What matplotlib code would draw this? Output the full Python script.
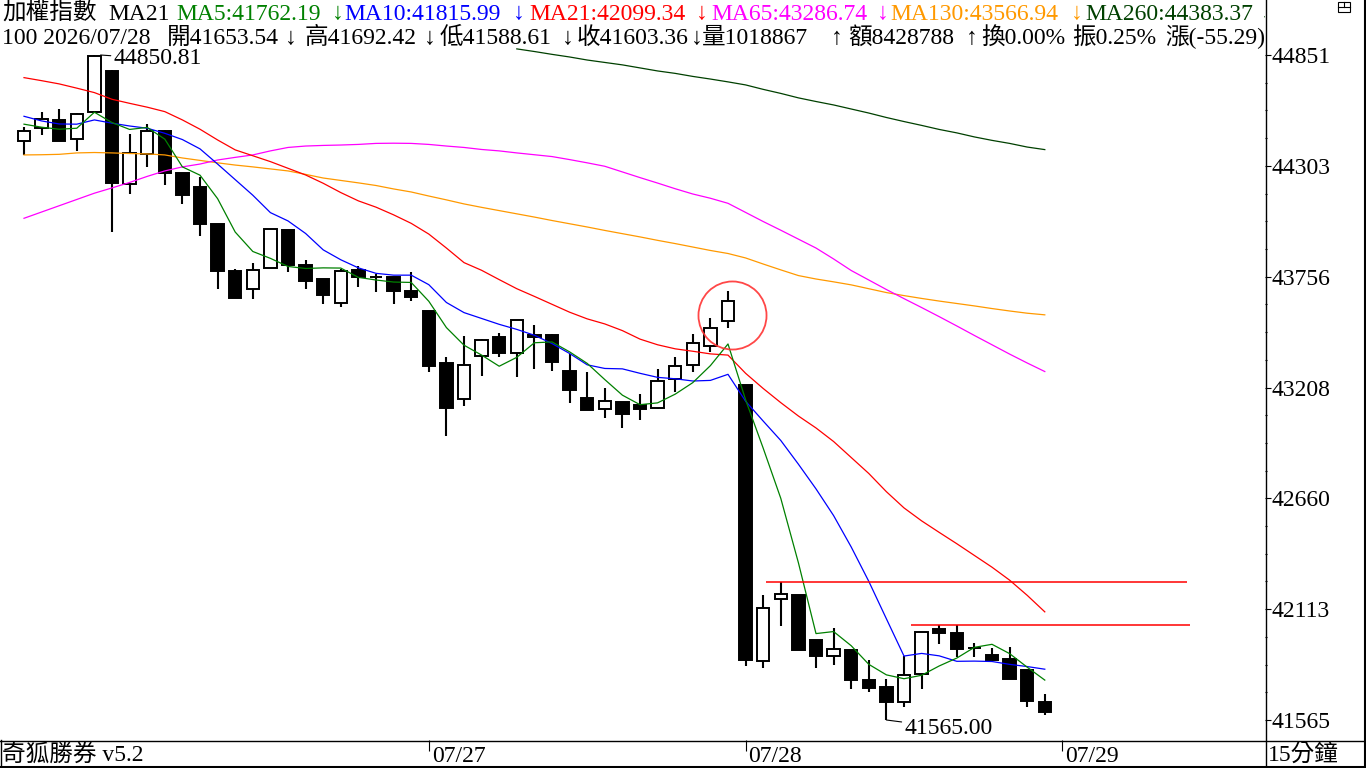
import numpy as np
import matplotlib
matplotlib.use('Agg')
import matplotlib.pyplot as plt
from matplotlib.lines import Line2D
from matplotlib.patches import Rectangle

# 15-min bars, 07/23 afternoon .. 07/28
open_ = [44425, 44489, 44530, 44434, 44569, 44772, 44212, 44360, 44477, 44266,
         44199, 44016, 43784, 43693, 43797, 43986, 43813, 43744, 43624, 43789,
         43752.5, 43754, 43685, 43586, 43329, 43150, 43362, 43458, 43377, 43456,
         43467, 43290, 43156, 43100, 43136, 43122, 43105, 43250, 43318, 43415,
         43538, 43220, 41855, 42164, 42183, 41960, 41883, 41911, 41763, 41728,
         41655, 41791, 42015, 41993, 41922, 41886, 41865, 41812, 41653.54]
high = [44494, 44571, 44584, 44564, 44850.81, 44775, 44461, 44510, 44480, 44267,
        44250, 44017, 43792, 43825, 43991, 43987, 43838, 43745, 43792, 43808,
        43769, 43755, 43779, 43587, 43359, 43463, 43448, 43479, 43541, 43517,
        43472, 43372, 43285, 43206, 43137, 43176, 43299, 43359, 43472, 43551,
        43685, 43221, 42181, 42245, 42184, 41961, 42021, 41912, 41862, 41768,
        41883, 42001, 42035, 42034, 41944, 41919, 41924, 41813, 41692.42]
low = [44357, 44456, 44426, 44378, 44567, 43978, 44164, 44299, 44209, 44113,
       43958, 43693, 43650, 43644, 43796, 43780, 43693, 43619, 43607, 43706,
       43681, 43622, 43637, 43286, 42970, 43118, 43266, 43359, 43261, 43301,
       43291, 43133, 43097, 43059, 43009, 43047, 43104, 43186, 43285, 43383,
       43504, 41833, 41820, 42030, 41911, 41823, 41838, 41718, 41702, 41565,
       41628, 41717, 41942, 41878, 41878, 41862, 41768, 41628, 41588.61]
close = [44474, 44533, 44428, 44558, 44846, 44220, 44365, 44476, 44266, 44161,
         44017, 43785, 43652, 43787, 43990, 43815, 43736, 43667, 43784, 43756,
         43752.5, 43686, 43657, 43316, 43108, 43318, 43441, 43380, 43540, 43466,
         43336, 43197, 43098, 43140, 43079, 43103, 43239, 43313, 43426, 43501,
         43634, 41863, 42117, 42186, 41912, 41883, 41914, 41764, 41725, 41655,
         41787, 42000, 41995, 41917, 41922, 41863, 41769, 41660, 41603.36]

ma5 = [44509, 44494, 44484, 44489, 44568, 44517, 44483, 44493, 44435, 44298,
       44257, 44141, 43976, 43880, 43846, 43806, 43796, 43799, 43798, 43752,
       43739, 43729, 43727, 43634, 43504, 43417, 43368, 43313, 43357, 43429,
       43433, 43384, 43327, 43247, 43170, 43123, 43132, 43175, 43232, 43316,
       43423, 43147, 42908, 42660, 42342, 41992, 42002, 41932, 41840, 41788,
       41769, 41786, 41832, 41871, 41924, 41939, 41893, 41826, 41762.19]
ma10 = [44548, 44525, 44510, 44509, 44530, 44514, 44500, 44489, 44464, 44433,
        44387, 44312, 44235, 44158, 44072, 44031, 43969, 43888, 43839, 43799,
        43772, 43763, 43763, 43716, 43628, 43578, 43549, 43520, 43495, 43466,
        43425, 43376, 43320, 43302, 43300, 43278, 43258, 43251, 43240, 43243,
        43273, 43140, 43042, 42946, 42829, 42707, 42575, 42420, 42250, 42065,
        41881, 41894, 41882, 41855, 41856, 41854, 41840, 41829, 41815.99]
ma21 = [44739, 44724, 44708, 44687, 44665, 44632, 44612, 44593, 44571, 44530,
        44484, 44431, 44382, 44353, 44324, 44291, 44258, 44217, 44171, 44130,
        44099, 44061, 44019, 43966, 43897, 43825, 43787, 43741, 43696, 43658,
        43619, 43580, 43547, 43522, 43489, 43447, 43419, 43399, 43387, 43374,
        43368, 43278, 43203, 43133, 43067, 43008, 42941, 42862, 42783, 42693,
        42613, 42549, 42492, 42436, 42378, 42320, 42256, 42181, 42099.34]
ma65 = [44044, 44075, 44106, 44137, 44168, 44194, 44221, 44251, 44278, 44298,
        44312, 44332, 44345, 44357, 44377, 44394, 44401, 44404, 44406, 44409,
        44414, 44415, 44414, 44409, 44401, 44394, 44384, 44377, 44367, 44358,
        44349, 44334, 44318, 44301, 44273, 44245, 44218, 44190, 44164, 44143,
        44118, 44073, 44028, 43985, 43941, 43897, 43843, 43786, 43739, 43692,
        43647, 43603, 43558, 43512, 43465, 43419, 43373, 43329, 43286.74]
ma130 = [44357, 44358, 44360, 44367, 44369, 44367, 44364, 44362, 44357, 44342,
         44330, 44318, 44307, 44298, 44288, 44278, 44261, 44243, 44231, 44219,
         44206, 44189, 44174, 44154, 44135, 44115, 44098, 44082, 44066, 44050,
         44033, 44017, 44001, 43984, 43968, 43952, 43935, 43919, 43902, 43885,
         43870, 43848, 43818, 43789, 43761, 43744, 43730, 43715, 43696, 43677,
         43662, 43648, 43635, 43623, 43611, 43598, 43586, 43575, 43566.94]
ma260 = [None] * 28 + [
         44881, 44868, 44854, 44841, 44826, 44814, 44802, 44787, 44772, 44760,
         44745, 44732, 44718, 44703, 44681, 44661, 44639, 44621, 44604, 44584,
         44564, 44542, 44522, 44503, 44483, 44466, 44446, 44429, 44414, 44396,
         44383.37]

ma_colors = {'MA5': '#008000', 'MA10': '#0000ff', 'MA21': '#ff0000',
             'MA65': '#ff00ff', 'MA130': '#ff9900', 'MA260': '#004000'}

date_idx = [23, 41, 59]
date_labels = ['07/27', '07/28', '07/29']

# support / resistance lines drawn by the user: (price, from_idx, to_idx)
hlines = [(42245, 42.15, 66.1), (42036, 50.4, 66.25)]
circle_at = (40.2, 43566)

W, H = 1366, 768
FONT = ['Liberation Serif', 'Noto Sans CJK TC', 'DejaVu Sans']
plt.rcParams['font.family'] = FONT
FS = 17


def fx(px):
    return px / W


def fy(py):
    return 1 - py / H


fig = plt.figure(figsize=(W / 100, H / 100), dpi=100)
fig.patch.set_facecolor('white')

# main price panel
ax = fig.add_axes([0, fy(740), fx(1265), fy(46) - fy(740)])
for s in ax.spines.values():
    s.set_visible(False)
ax.set_facecolor('white')

o = np.array(open_)
h = np.array(high)
l = np.array(low)
c = np.array(close)
idx = np.arange(len(c))
up = c >= o
lo_b = np.minimum(o, c)
hi_b = np.maximum(o, c)

ax.vlines(idx, hi_b, h, color='black', lw=1.5, zorder=2)
ax.vlines(idx, l, lo_b, color='black', lw=1.5, zorder=2)
ax.bar(idx, hi_b - lo_b, bottom=lo_b, width=0.71,
       color=np.where(up, 'white', 'black'), edgecolor='black',
       linewidth=1.4, zorder=3)

for name, vals in [('MA260', ma260), ('MA130', ma130), ('MA65', ma65),
                   ('MA21', ma21), ('MA10', ma10), ('MA5', ma5)]:
    v = np.array([np.nan if x is None else x for x in vals], dtype=float)
    ax.plot(idx, v, color=ma_colors[name], lw=0.9, zorder=4)

for price, x0, x1 in hlines:
    ax.hlines(price, x0, x1, color='#ff0000', lw=1.1, zorder=4)

ax.plot(*circle_at, marker='o', ms=49, mfc='none', mec='#ff3333',
        mew=1.3, alpha=0.9, zorder=5)

# max / min labels
i_hi = int(np.argmax(h))
i_lo = int(np.argmin(l))
ax.annotate(f'{h[i_hi]:.2f}', xy=(i_hi + 0.35, h[i_hi]), xytext=(13, -4),
            textcoords='offset pixels', ha='left', va='center', fontsize=FS,
            arrowprops=dict(arrowstyle='-', lw=0.8, color='black',
                            shrinkA=0, shrinkB=0), zorder=6)
ax.annotate(f'{l[i_lo]:.2f}', xy=(i_lo, l[i_lo]), xytext=(18, -8),
            textcoords='offset pixels', ha='left', va='center', fontsize=FS,
            arrowprops=dict(arrowstyle='-', lw=0.8, color='black',
                            shrinkA=0, shrinkB=0), zorder=6)

step = 3285.81 / 665
ax.set_ylim(41565 - 20 * step, 44850.81 + 9 * step)
ax.set_xlim(-24 / 17.6, (1265 - 24) / 17.6)

ymin, ymax = 41565.0, 44850.81
yt = ymin + (ymax - ymin) / 6 * np.arange(7)
ax.yaxis.tick_right()
ax.set_yticks(yt)
ax.set_yticklabels([f'{v:.0f}' for v in yt])
ax.set_yticks(ymin + (ymax - ymin) / 24 * np.arange(25), minor=True)
ax.tick_params(axis='y', which='major', direction='out', length=4, width=0.8,
               pad=1, labelsize=FS)
ax.tick_params(axis='y', which='minor', direction='out', length=1.5,
               width=0.8)

ax.set_xticks(date_idx)
ax.tick_params(axis='x', direction='out', length=8, width=0.8,
               labelbottom=False)
for i, lab in zip(date_idx, date_labels):
    ax.annotate(lab, xy=(i, 0), xycoords=('data', 'axes fraction'),
                xytext=(3, -22), textcoords='offset pixels', ha='left',
                va='baseline', fontsize=FS, annotation_clip=False)

# header rows
hax = fig.add_axes([0, fy(52), fx(1265), fy(0) - fy(52)])
hax.set_xlim(0, 1265)
hax.set_ylim(52, 0)
hax.axis('off')

row1 = [(2, '加權指數', 'black'), (108, 'MA21', 'black'),
        (176, 'MA5:41762.19', ma_colors['MA5']), (332, '↓', ma_colors['MA5']),
        (344, 'MA10:41815.99', ma_colors['MA10']), (513, '↓', ma_colors['MA10']),
        (529, 'MA21:42099.34', ma_colors['MA21']), (696, '↓', ma_colors['MA21']),
        (711, 'MA65:43286.74', ma_colors['MA65']), (877, '↓', ma_colors['MA65']),
        (890, 'MA130:43566.94', ma_colors['MA130']), (1071, '↓', ma_colors['MA130']),
        (1085, 'MA260:44383.37', ma_colors['MA260']), (1261, '↓', ma_colors['MA260'])]
row2 = [(2, '100 2026/07/28', 'black'), (167, '開41653.54', 'black'),
        (285, '↓', 'black'), (305, '高41692.42', 'black'), (424, '↓', 'black'),
        (440, '低41588.61', 'black'), (562, '↓', 'black'),
        (577, '收41603.36', 'black'), (691, '↓', 'black'),
        (702, '量1018867', 'black'), (831, '↑', 'black'),
        (848, '額8428788', 'black'), (966, '↑', 'black'),
        (981, '換0.00%', 'black'), (1072, '振0.25%', 'black'),
        (1165, '漲(-55.29)', 'black')]
for xp, txt, col in row1:
    hax.text(xp, 19.5, txt, color=col, fontsize=FS, va='baseline', ha='left',
             clip_on=True)
for xp, txt, col in row2:
    hax.text(xp, 44, txt, color=col, fontsize=FS, va='baseline', ha='left',
             clip_on=True)

# bottom bar texts
fig.text(fx(2), fy(762), '奇狐勝券 v5.2', fontsize=FS, va='baseline', ha='left')
fig.text(fx(1268), fy(762), '15分鐘', fontsize=FS, va='baseline', ha='left')

# frame lines
def fline(x0, y0, x1, y1, lw=1.0):
    fig.add_artist(Line2D([fx(x0), fx(x1)], [fy(y0), fy(y1)], color='black',
                          lw=lw, transform=fig.transFigure))

fline(1265.5, 0, 1265.5, 768)
fline(0, 740.5, 1366, 740.5)
fline(0, 766.5, 1366, 766.5, lw=2.2)
fline(0.5, 740, 0.5, 768)
fline(1365, 0, 1365, 768, lw=1.5)

# small window icon, top right
fig.add_artist(Rectangle((fx(1338), fy(12)), fx(12), fy(2) - fy(12),
                         fill=False, lw=0.8, ec='black', transform=fig.transFigure))
fline(1338, 7, 1350, 7, lw=0.8)
fline(1344, 2, 1344, 7, lw=0.8)

fig.savefig('out.png', dpi=100)
